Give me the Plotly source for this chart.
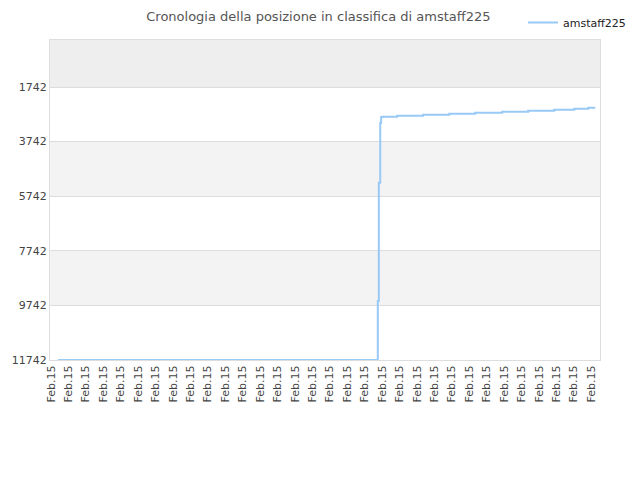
import plotly.graph_objects as go

# rank history for amstaff225 (x = position along the date axis, in tick units)
pos = [0.40, 18.75, 18.81, 18.89, 18.94, 19.06, 19.86, 21.35, 22.85,
       24.34, 25.89, 27.38, 28.87, 30.02, 30.83, 31.23]
rank = [11742, 9581, 5247, 3061, 2840, 2830, 2793, 2757, 2720,
        2684, 2647, 2610, 2574, 2537, 2500, 2500]

tick_labels = ["Feb.15"] * 32
y_ticks = [1742, 3742, 5742, 7742, 9742, 11742]

fig = go.Figure()
fig.add_trace(go.Scatter(
    x=pos, y=rank, mode="lines", line_shape="hv",
    line=dict(color="#99c9f5", width=2),
    name="amstaff225",
))

# shaded bands
bands = [(20, 1742, "#eeeeee"), (3742, 5742, "#f3f3f3"), (7742, 9742, "#f3f3f3")]
for y0, y1, col in bands:
    fig.add_shape(type="rect", xref="paper", yref="y", x0=0, x1=1, y0=y0, y1=y1,
                  fillcolor=col, line_width=0, layer="below")

fig.update_layout(
    width=640, height=480,
    margin=dict(l=42, r=48, t=32, b=128, autoexpand=False),
    paper_bgcolor="white", plot_bgcolor="white",
    font=dict(family="DejaVu Sans", size=11, color="#444"),
    title=dict(text="Cronologia della posizione in classifica di amstaff225",
               x=0.485, xanchor="center", xref="container",
               y=1.0, yanchor="top", yref="container", pad=dict(t=4),
               font=dict(size=13, color="#555")),
    showlegend=True,
    legend=dict(x=0.86, y=1.1, xanchor="left", yanchor="top",
                tracegroupgap=0, itemwidth=30,
                font=dict(size=11, color="#222"), bgcolor="rgba(0,0,0,0)"),
)
fig.update_xaxes(
    range=[-0.06, 31.5], tickmode="array", automargin=False,
    tickvals=list(range(len(tick_labels))), ticktext=tick_labels,
    tickangle=-90, showgrid=False, zeroline=False,
    showline=True, linecolor="#dddddd", mirror=True,
    tickfont=dict(size=11, color="#444"),
)
fig.update_yaxes(
    range=[11742, 20], tickmode="array", automargin=False,
    tickvals=y_ticks, ticktext=[str(v) for v in y_ticks],
    showgrid=True, gridcolor="#dddddd", zeroline=False,
    showline=True, linecolor="#dddddd", mirror=True,
    tickfont=dict(size=11, color="#444"),
)

fig.write_html("out.html")
